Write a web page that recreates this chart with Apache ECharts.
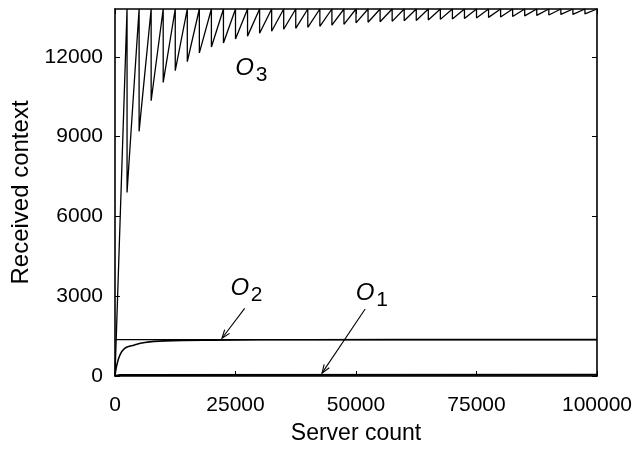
<!DOCTYPE html>
<html>
<head>
<meta charset="utf-8">
<script src="https://cdn.jsdelivr.net/npm/echarts@6/dist/echarts.min.js"></script>
<style>
  html, body { margin: 0; padding: 0; background: #fff; }
  #main { width: 640px; height: 450px; }
</style>
</head>
<body>
<div id="main"></div>
<script>
// 坐标轴刻度
var xTicks = [0, 25000, 50000, 75000, 100000];
var yTicks = [0, 3000, 6000, 9000, 12000];

// O3: 锯齿, 每个齿的起点 (server count) 和跌落后的最小值
var o3Top = 13800;
var o3Breaks = [0, 2500, 5000, 7500, 10000, 12500, 15000, 17500, 20000, 22500,
  25000, 27500, 30000, 32500, 35000, 37500, 40000, 42500, 45000, 47500,
  50000, 52500, 55000, 57500, 60000, 62500, 65000, 67500, 70000, 72500,
  75000, 77500, 80000, 82500, 85000, 87500, 90000, 92500, 95000, 97500, 100000];
var o3Minima = [0, 6900, 9200, 10350, 11040, 11480, 11820, 12150, 12370, 12520,
  12670, 12780, 12890, 12965, 13040, 13075, 13110, 13150, 13190, 13225,
  13280, 13300, 13320, 13335, 13355, 13370, 13390, 13410, 13425, 13445,
  13465, 13485, 13500, 13520, 13540, 13560, 13575, 13595, 13595, 13615];

// O2: 上沿 + 下沿曲线
var o2TopX = [0, 100000];
var o2TopY = [1370, 1370];
var o2LowX = [0, 300, 1000, 2000, 3700, 6200, 10400, 20000, 40000, 100000];
var o2LowY = [0, 350, 780, 1040, 1150, 1260, 1320, 1350, 1365, 1368];

// O1: 贴近 0
var o1X = [0, 300, 1000, 100000];
var o1Y = [0, 30, 40, 45];

function pairs(xs, ys) {
  return xs.map(function (x, i) { return [x, ys[i]]; });
}

var o3Data = [];
for (var i = 0; i < o3Breaks.length; i++) {
  if (i > 0) o3Data.push([o3Breaks[i], o3Top]);
  if (i < o3Minima.length) o3Data.push([o3Breaks[i], o3Minima[i]]);
}

var font = 'Liberation Sans, Arial, Helvetica, sans-serif';
var lineStyle = { color: '#000', width: 1.3 };
var plain = function (v) { return String(v); };

var chart = echarts.init(document.getElementById('main'));

var option = {
  animation: false,
  backgroundColor: '#fff',
  grid: { left: 115, right: 43, top: 9, bottom: 69 },
  xAxis: [{
    type: 'value', min: 0, max: 100000, interval: 25000,
    name: 'Server count', nameLocation: 'middle', nameGap: 46,
    nameTextStyle: { fontFamily: font, fontSize: 23, color: '#000' },
    axisLine: { lineStyle: { color: '#000', width: 1.6 } },
    axisTick: { inside: true, length: 5, lineStyle: { color: '#000' } },
    axisLabel: { fontFamily: font, fontSize: 21, color: '#000', margin: 19, customValues: xTicks, formatter: plain },
    splitLine: { show: false }
  }, {
    type: 'value', min: 0, max: 100000, interval: 25000, position: 'top',
    axisLine: { onZero: false, lineStyle: { color: '#000', width: 1.6 } },
    axisTick: { inside: true, length: 5, lineStyle: { color: '#000' } },
    axisLabel: { show: false },
    splitLine: { show: false }
  }],
  yAxis: [{
    type: 'value', min: 0, max: o3Top,
    name: 'Received context', nameLocation: 'middle', nameGap: 77,
    nameTextStyle: { fontFamily: font, fontSize: 24, color: '#000' },
    axisLine: { lineStyle: { color: '#000', width: 1.6 } },
    axisTick: { inside: true, length: 5, lineStyle: { color: '#000' }, customValues: yTicks },
    axisLabel: { fontFamily: font, fontSize: 21, color: '#000', margin: 12, customValues: yTicks, formatter: plain },
    splitLine: { show: false }
  }, {
    type: 'value', min: 0, max: o3Top, position: 'right',
    axisLine: { onZero: false, lineStyle: { color: '#000', width: 1.6 } },
    axisTick: { inside: true, length: 5, lineStyle: { color: '#000' }, customValues: yTicks },
    axisLabel: { show: false },
    splitLine: { show: false }
  }],
  series: [
    { name: 'O3', type: 'line', data: o3Data, showSymbol: false, lineStyle: lineStyle, silent: true },
    { name: 'O2', type: 'line', data: pairs(o2TopX, o2TopY), showSymbol: false, lineStyle: lineStyle, silent: true },
    { name: 'O2 low', type: 'line', data: pairs(o2LowX, o2LowY), smooth: 0.4, showSymbol: false, lineStyle: { color: '#000', width: 1.6 }, silent: true },
    { name: 'O1', type: 'line', data: pairs(o1X, o1Y), showSymbol: false, lineStyle: { color: '#000', width: 2 }, silent: true }
  ]
};

chart.setOption(option);

// 标注: 文字和箭头, 用数据坐标定位
var labels = [
  { main: 'O', sub: '3', at: [26900, 11560] },
  { main: 'O', sub: '2', at: [25900, 3300] },
  { main: 'O', sub: '1', at: [51900, 3120] }
];
var arrows = [
  { from: [26900, 2540], to: [22200, 1420] },
  { from: [51900, 2520], to: [42950, 110] }
];

function px(p) { return chart.convertToPixel({ gridIndex: 0 }, p); }

var graphics = [];
labels.forEach(function (l) {
  var c = px(l.at);
  graphics.push({
    type: 'text', x: c[0], y: c[1], silent: true,
    style: { text: l.main, fontFamily: font, fontStyle: 'italic', fontSize: 24, fill: '#000', align: 'center', verticalAlign: 'middle' }
  });
  graphics.push({
    type: 'text', x: c[0] + 11, y: c[1] + 7, silent: true,
    style: { text: l.sub, fontFamily: font, fontSize: 21, fill: '#000', align: 'left', verticalAlign: 'middle' }
  });
});
arrows.forEach(function (a) {
  var p0 = px(a.from), p1 = px(a.to);
  var ang = Math.atan2(p1[1] - p0[1], p1[0] - p0[0]);
  var len = 9, spread = 0.35;
  graphics.push({
    type: 'line', silent: true,
    shape: { x1: p0[0], y1: p0[1], x2: p1[0], y2: p1[1] },
    style: { stroke: '#000', lineWidth: 1.1 }
  });
  graphics.push({
    type: 'polyline', silent: true,
    shape: { points: [
      [p1[0] - len * Math.cos(ang - spread), p1[1] - len * Math.sin(ang - spread)],
      [p1[0], p1[1]],
      [p1[0] - len * Math.cos(ang + spread), p1[1] - len * Math.sin(ang + spread)]
    ] },
    style: { stroke: '#000', lineWidth: 1.1, fill: null }
  });
});
chart.setOption({ graphic: graphics });
</script>
</body>
</html>
